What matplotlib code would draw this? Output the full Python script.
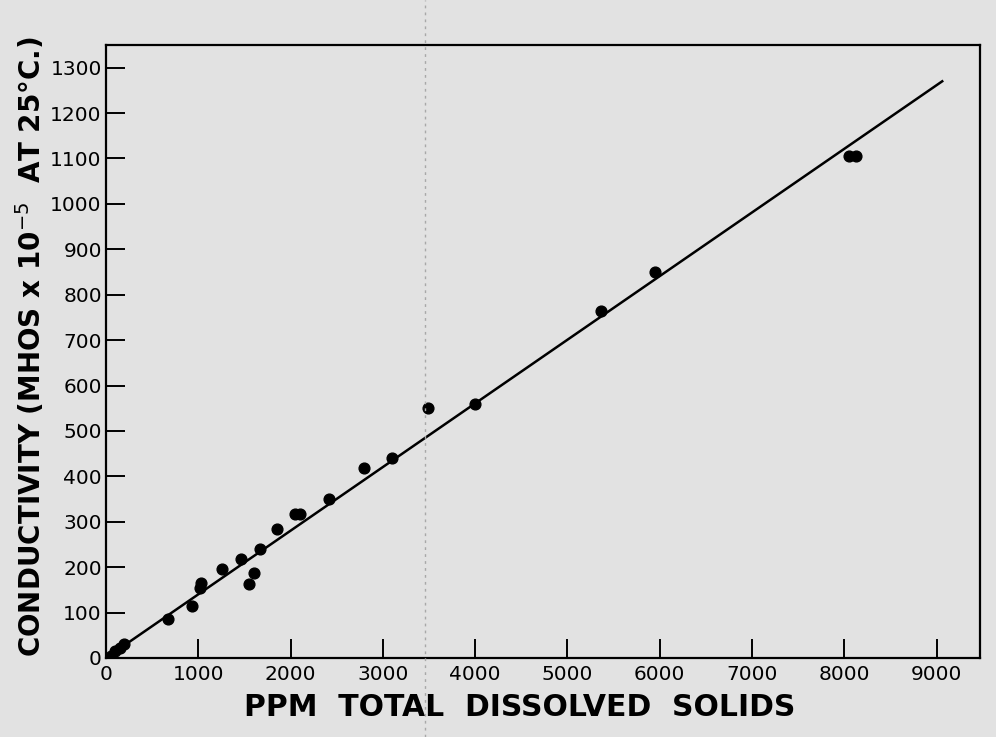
import matplotlib
matplotlib.use("Agg")
import matplotlib.pyplot as plt
from matplotlib.lines import Line2D

# Data (ppm TDS, conductivity mhos x 1e-5)
ppm = [50, 100, 150, 200, 670, 930, 1020, 1030, 1260, 1460, 1550, 1600, 1670,
       1850, 2050, 2100, 2420, 2800, 3100, 3490, 4000, 5360, 5950, 8050, 8130]
cond = [5, 15, 22, 30, 85, 115, 155, 165, 195, 218, 162, 188, 240,
        285, 318, 318, 350, 418, 440, 550, 560, 765, 850, 1105, 1105]
fit_x = [0, 9060]
fit_y = [0, 1270]
x_ticks = [0, 1000, 2000, 3000, 4000, 5000, 6000, 7000, 8000, 9000]
y_ticks = [0, 100, 200, 300, 400, 500, 600, 700, 800, 900, 1000, 1100, 1200, 1300]

bg = "#e2e2e2"
fig = plt.figure(figsize=(9.96, 7.37), dpi=100, facecolor=bg)
ax = fig.add_axes([0.1064, 0.1072, 0.8776, 0.8318], facecolor=bg)

# faint scan fold line across the whole sheet
fig.add_artist(Line2D([0.427, 0.427], [0.0, 1.0], transform=fig.transFigure,
                      color="#a8a8a8", lw=1.0, ls=(0, (2, 3)), zorder=5))

ax.plot(fit_x, fit_y, color="black", lw=1.8, zorder=2)
ax.scatter(ppm, cond, s=60, color="black", zorder=3)

ax.set_xlim(0, 9470)
ax.set_ylim(0, 1350)
ax.set_xticks(x_ticks)
ax.set_yticks(y_ticks)
ax.tick_params(direction="in", length=14, width=1.4, labelsize=14.5, colors="black")
ax.tick_params(axis="x", pad=5)
ax.tick_params(axis="y", pad=3)
for s in ax.spines.values():
    s.set_linewidth(1.6)

fig.text(0.522, 0.040, "PPM  TOTAL  DISSOLVED  SOLIDS", ha="center", va="center",
         fontsize=21.5, fontweight="bold")
fig.text(0.031, 0.529, "CONDUCTIVITY (MHOS x 10$^{-5}$  AT 25°C.)", ha="center", va="center",
         rotation=90, fontsize=20, fontweight="bold")

fig.savefig("out.png", dpi=100, facecolor=bg)
